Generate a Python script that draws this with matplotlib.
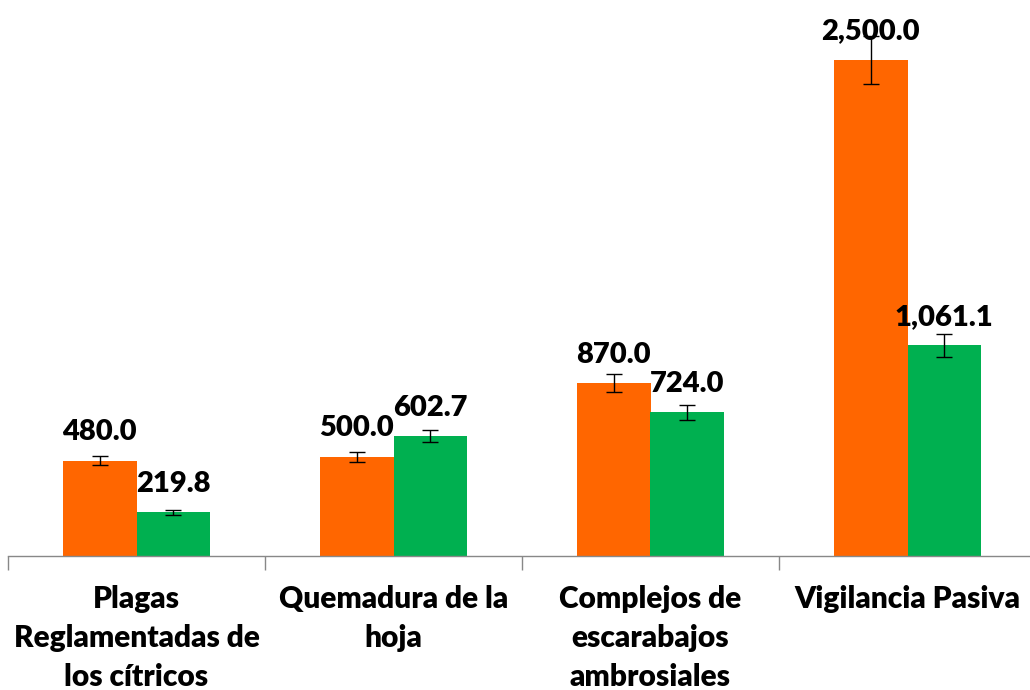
import matplotlib.pyplot as plt
import numpy as np

plt.rcParams['font.family'] = ['Lato', 'DejaVu Sans']

categories = ['Plagas\nReglamentadas de\nlos cítricos', 'Quemadura de la\nhoja',
              'Complejos de\nescarabajos\nambrosiales', 'Vigilancia Pasiva']
orange_vals = [480.0, 500.0, 870.0, 2500.0]
green_vals = [219.8, 602.7, 724.0, 1061.1]
orange_err = [24.0, 25.0, 45.0, 121.0]
green_err = [11.0, 30.0, 38.0, 58.0]
labels_orange = ['480.0', '500.0', '870.0', '2,500.0']
labels_green = ['219.8', '602.7', '724.0', '1,061.1']

fig = plt.figure(figsize=(10.3, 6.9), dpi=100)
ax = fig.add_axes([8 / 1030, 134 / 690, 1028 / 1030, 556 / 690])

x = np.arange(len(categories))
w = 0.286
ax.bar(x - w / 2, orange_vals, w, color='#FF6600', yerr=orange_err,
       error_kw=dict(ecolor='black', elinewidth=1, capsize=6, capthick=1))
ax.bar(x + w / 2, green_vals, w, color='#00B050', yerr=green_err,
       error_kw=dict(ecolor='black', elinewidth=1, capsize=6, capthick=1))

for xi, v, t in zip(x - w / 2, orange_vals, labels_orange):
    ax.annotate(t, (xi, v), xytext=(0, 11), textcoords='offset points',
                ha='center', va='bottom', fontsize=21, fontweight='heavy')
for xi, v, t in zip(x + w / 2, green_vals, labels_green):
    ax.annotate(t, (xi, v), xytext=(0, 11), textcoords='offset points',
                ha='center', va='bottom', fontsize=21, fontweight='heavy')

ax.set_xlim(-0.5, len(categories) - 0.5)
ax.set_ylim(0, 2800)
ax.set_yticks([])
for s in ['top', 'right', 'left']:
    ax.spines[s].set_visible(False)
ax.spines['bottom'].set_color('#888888')
ax.spines['bottom'].set_linewidth(1)

ax.set_xticks(np.arange(len(categories) + 1) - 0.5, minor=False)
ax.set_xticklabels([])
ax.tick_params(axis='x', which='major', length=10, color='#888888', width=1)
for xi, c in zip(x, categories):
    ax.text(xi, -145, c, ha='center', va='top', fontsize=21.5, fontweight='heavy',
            linespacing=1.48)

fig.savefig('out.png', dpi=100)
